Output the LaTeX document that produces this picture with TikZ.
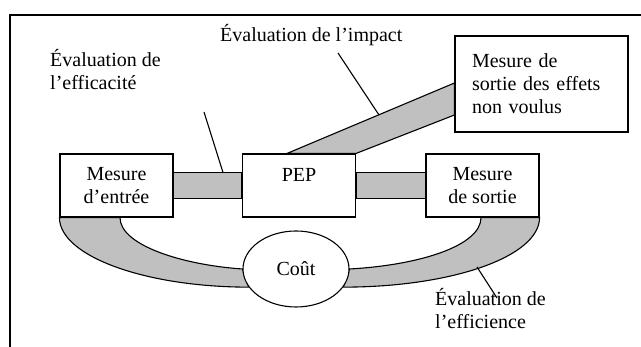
\documentclass[tikz,border=0pt]{standalone}
\usepackage{fontspec}
\setmainfont{Liberation Serif}
\usetikzlibrary{shapes.geometric,backgrounds}
\definecolor{bandgray}{RGB}{192,192,192}
\begin{document}
\begin{tikzpicture}[x=1pt,y=1pt,
    font=\fontsize{20}{23}\selectfont,
    measure/.style={draw,line width=1.1pt,fill=white,align=center,
      minimum width=113pt,minimum height=63pt,inner sep=0pt},
    band/.style={draw,line width=1.1pt,fill=bandgray},
    pointer/.style={line width=1.1pt},
    evaltext/.style={align=left,inner sep=0pt}]
  \useasboundingbox (0,0) rectangle (641,347);
  \draw[line width=1.3pt] (10,0) -- (10,332) -- (641,332);
  % boxes
  \node[measure] (entree) at (116.5,161.5) {Mesure\\d’entrée};
  \node[measure,text height=14pt,text depth=21pt] (pep) at (299,161.5) {PEP};
  \node[measure] (sortie) at (482.5,161.5) {Mesure\\de sortie};
  \node[measure,align=left,text width=139pt,inner xsep=17pt,minimum height=96pt]
    (effets) at (541.5,263) {Mesure de\\sortie des effets\\non voulus};
  \node[ellipse,draw,line width=1.1pt,fill=white,minimum width=106pt,
    minimum height=76pt,inner sep=0pt] (cout) at (296,78) {Coût};
  % labels (base = last line)
  \node[evaltext,anchor=base west] (efficacite) at (50,257) {Évaluation de\\l’efficacité};
  \node[evaltext,anchor=base west] (impact) at (220,305) {Évaluation de l’impact};
  \node[evaltext,anchor=base west] (efficience) at (435,18) {Évaluation de\\l’efficience};
  % bands
  \begin{scope}[on background layer]
    \draw[band] ([yshift=13]entree.east) rectangle ([yshift=-13]pep.west);
    \draw[band] ([yshift=13]pep.east) rectangle ([yshift=-13]sortie.west);
    \draw[band] ([xshift=-12]pep.north) -- ([yshift=1]effets.west)
      -- ([yshift=-31]effets.west) -- (pep.north east) -- cycle;
    \draw[band] (entree.south west) .. controls +(0,-38.6) and +(-103.4,0) .. (cout.201)
      -- (cout.west) .. controls +(-59,4) and +(0,-28) .. ([xshift=3.5]entree.south) -- cycle;
    \draw[band] (sortie.south east) .. controls +(0,-39) and +(109,0) .. (cout.-21)
      -- (cout.east) .. controls +(71,4) and +(0,-28) .. ([xshift=-1.5]sortie.south) -- cycle;
  \end{scope}
  % pointers
  \coordinate (efficacite-tip) at (204,235);
  \coordinate (efficacite-foot) at (223,174.5);
  \coordinate (impact-tip) at (338,294);
  \coordinate (impact-foot) at (379,232);
  \coordinate (efficience-foot) at (477,80);
  \coordinate (efficience-tip) at (497,49);
  \draw[pointer] (efficacite-tip) -- (efficacite-foot);
  \draw[pointer] (impact-tip) -- (impact-foot);
  \draw[pointer] (efficience-foot) -- (efficience-tip);
\end{tikzpicture}
\end{document}
